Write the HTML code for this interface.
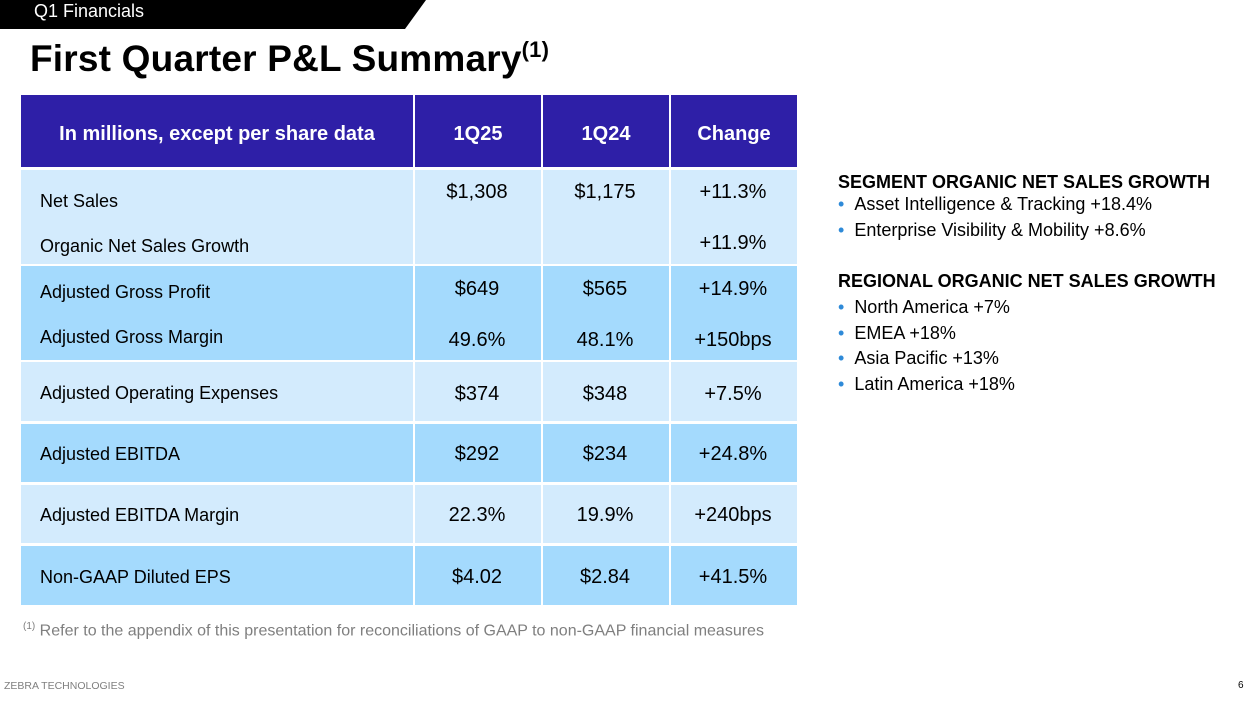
<!DOCTYPE html>
<html><head><meta charset="utf-8"><style>
body{margin:0;width:1252px;height:702px;position:relative;background:#fff;font-family:"Liberation Sans",Arial,sans-serif;overflow:hidden}
.a{position:absolute}
.cell{position:absolute;box-sizing:border-box;color:#000;font-size:19px}
.l{background:#d3ebfd}.d{background:#a4dafd}
.h{background:#2e1fa7;color:#fff;font-weight:bold;font-size:20px;display:flex;align-items:center;justify-content:center;padding-top:6px}
.t{position:absolute;font-size:19px;color:#000;white-space:nowrap}
.c{text-align:center;width:128px}
.rp{position:absolute;left:838px;font-size:18px;color:#000;white-space:nowrap}
.rp b{font-size:18px}
.bul{color:#2e8ad8;margin-right:10px}
</style></head><body>
<svg class="a" style="left:0;top:0" width="430" height="29"><polygon points="0,0 426,0 405,29 0,29" fill="#000"/></svg>
<div class="a" style="left:34px;top:0;color:#fff;font-size:18px;line-height:22px">Q1 Financials</div>
<div class="a" style="left:30px;top:37px;font-size:37px;font-weight:bold;color:#000;white-space:nowrap;letter-spacing:0.2px">First Quarter P&amp;L Summary<sup style="font-size:22px;vertical-align:14px">(1)</sup></div>

<div>
<div class="cell h" style="left:21px;top:95px;width:392px;height:72px">In millions, except per share data</div>
<div class="cell h" style="left:415px;top:95px;width:126px;height:72px">1Q25</div>
<div class="cell h" style="left:543px;top:95px;width:126px;height:72px">1Q24</div>
<div class="cell h" style="left:671px;top:95px;width:126px;height:72px">Change</div>
</div>
<div id="rows"></div>
<script>
const rowTops=[170,266,362,424,485,546];
const rowH=[94,94,59,58,58,59];
const cls=['l','d','l','d','l','d'];
const xs=[[21,392],[415,126],[543,126],[671,126]];
const R=document.getElementById('rows');
for(let i=0;i<6;i++){for(const [x,w] of xs){const d=document.createElement('div');d.className='cell '+cls[i];d.style.cssText=`left:${x}px;top:${rowTops[i]}px;width:${w}px;height:${rowH[i]}px`;


R.appendChild(d);}}
const lines=[
 [191,'Net Sales',181,'$1,308','$1,175','+11.3%'],
 [236,'Organic Net Sales Growth',232,'','','+11.9%'],
 [282,'Adjusted Gross Profit',278,'$649','$565','+14.9%'],
 [327,'Adjusted Gross Margin',329,'49.6%','48.1%','+150bps'],
 [383,'Adjusted Operating Expenses',383,'$374','$348','+7.5%'],
 [444,'Adjusted EBITDA',443,'$292','$234','+24.8%'],
 [505,'Adjusted EBITDA Margin',504,'22.3%','19.9%','+240bps'],
 [567,'Non-GAAP Diluted EPS',566,'$4.02','$2.84','+41.5%']];
for(const r of lines){
 const a=document.createElement('div');a.className='t';a.style.cssText=`left:40px;top:${r[0]}px;font-size:18px`;a.textContent=r[1];
 
 
 R.appendChild(a);
 [[413,r[3]],[541,r[4]],[669,r[5]]].forEach(([x,v])=>{const e=document.createElement('div');e.className='t c';e.style.cssText=`left:${x}px;top:${r[2]}px;font-size:20px`;e.textContent=v;
 
 
 R.appendChild(e);});
}
</script>
<div class="a" style="left:23px;top:621px;font-size:16px;color:#7f7f7f;white-space:nowrap"><sup style="font-size:10px">(1)</sup> Refer to the appendix of this presentation for reconciliations of GAAP to non-GAAP financial measures</div>
<div class="a" style="left:4px;top:680px;font-size:10.5px;color:#7f7f7f">ZEBRA TECHNOLOGIES</div>
<div class="a" style="left:1238px;top:680px;font-size:10px;color:#000">6</div>

<div>
<div class="rp" style="top:172px"><b>SEGMENT ORGANIC NET SALES GROWTH</b></div>
<div class="rp" style="top:194px"><span class="bul">•</span>Asset Intelligence &amp; Tracking +18.4%</div>
<div class="rp" style="top:220px"><span class="bul">•</span>Enterprise Visibility &amp; Mobility +8.6%</div>
</div>
<div>
<div class="rp" style="top:271px"><b>REGIONAL ORGANIC NET SALES GROWTH</b></div>
<div class="rp" style="top:297px"><span class="bul">•</span>North America +7%</div>
<div class="rp" style="top:323px"><span class="bul">•</span>EMEA +18%</div>
<div class="rp" style="top:348px"><span class="bul">•</span>Asia Pacific +13%</div>
<div class="rp" style="top:374px"><span class="bul">•</span>Latin America +18%</div>
</div>
</body></html>
